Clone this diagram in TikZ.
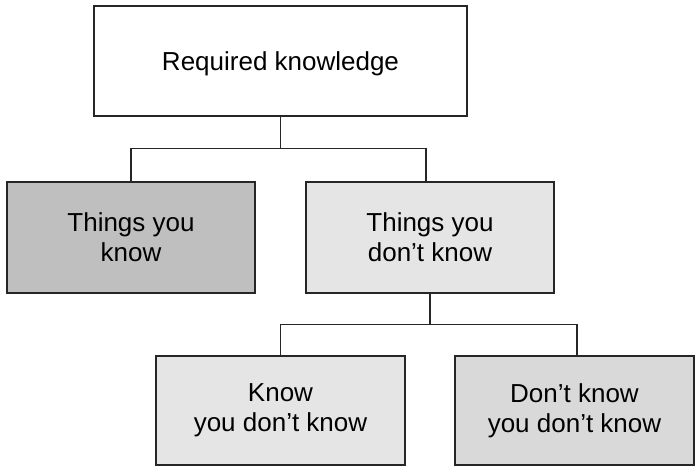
\documentclass[tikz,border=0pt]{standalone}
\usepackage{fontspec}
\setmainfont{Liberation Sans}
\begin{document}
\begin{tikzpicture}[x=1pt,y=1pt,
  box/.style={draw=black!85, line width=1.2pt, inner sep=0pt, align=center,
    font=\fontsize{26}{30}\selectfont},
  conn/.style={draw=black!85, line width=1.2pt}]
\useasboundingbox (0,0) rectangle (696,467);
\node[box, fill=white, minimum width=373pt, minimum height=110pt, text depth=0pt] (top) at (280.5,406) {Required knowledge};
\node[box, fill=black!25, minimum width=248pt, minimum height=111pt] (left) at (131,229.5) {Things you\\know};
\node[box, fill=black!10, minimum width=248pt, minimum height=111pt] (right) at (430,229.5) {Things you\\don’t know};
\node[box, fill=black!10, minimum width=249pt, minimum height=109pt] (bl) at (280.5,56.5) {Know\\you don’t know};
\node[box, fill=black!15, minimum width=239pt, minimum height=109pt] (br) at (574.5,56.5) {Don’t know\\you don’t know};
\coordinate (j1) at ([yshift=-32pt]top.south);
\coordinate (j2) at ([yshift=-31pt]right.south);
\draw[conn] (top.south) -- (j1);
\draw[conn] (left.north) |- (j1) -| ([xshift=-4pt]right.north);
\draw[conn] (right.south) -- (j2);
\draw[conn] (bl.north) |- (j2) -| ([xshift=2.5pt]br.north);
\end{tikzpicture}
\end{document}
